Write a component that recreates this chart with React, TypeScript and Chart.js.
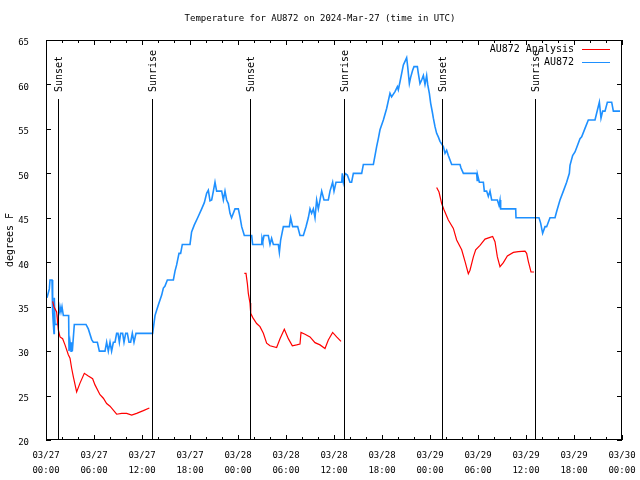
import React, { useEffect, useRef } from "react";
import { Chart, registerables } from "chart.js";
Chart.register(...registerables);

const TITLE = "Temperature for AU872 on 2024-Mar-27 (time in UTC)";
const Y_TITLE = "degrees F";
const FONT = "'DejaVu Sans Mono', monospace";

const X_TICK_HOURS = [0, 6, 12, 18, 24, 30, 36, 42, 48, 54, 60, 66, 72];
const X_TICK_LABELS = [
  ["03/27", "00:00"], ["03/27", "06:00"], ["03/27", "12:00"], ["03/27", "18:00"],
  ["03/28", "00:00"], ["03/28", "06:00"], ["03/28", "12:00"], ["03/28", "18:00"],
  ["03/29", "00:00"], ["03/29", "06:00"], ["03/29", "12:00"], ["03/29", "18:00"],
  ["03/30", "00:00"],
];
const Y_MIN = 20;
const Y_MAX = 65;
const Y_STEP = 5;

const SUN_EVENT_HOURS = [1.54, 13.29, 25.54, 37.29, 49.54, 61.16];
const SUN_EVENT_LABELS = ["Sunset", "Sunrise", "Sunset", "Sunrise", "Sunset", "Sunrise"];

const OBS_HOURS = [
  0.125, 0.42, 0.5, 0.75, 0.83, 0.92, 1.0, 1.04, 1.125, 1.42, 1.54, 1.67, 1.75, 1.875, 2.0, 2.17, 2.83, 2.875, 3.0, 3.125,
  3.2, 3.29, 3.54, 5.0, 5.29, 5.71, 5.92, 6.42, 6.67, 7.375, 7.58, 7.79, 8.0, 8.2, 8.42, 8.625, 8.83, 9.0, 9.17, 9.33,
  9.58, 9.75, 9.96, 10.17, 10.375, 10.58, 10.79, 11.0, 11.25, 13.33, 13.625, 13.83, 14.04, 14.46, 14.67, 14.86, 15.17, 15.92, 16.125, 16.33,
  16.625, 16.83, 17.04, 18.0, 18.2, 18.54, 18.96, 19.46, 19.79, 20.08, 20.29, 20.5, 20.71, 20.92, 21.125, 21.33, 21.96, 22.17, 22.375, 22.58,
  22.79, 23.0, 23.2, 23.625, 24.04, 24.25, 24.46, 24.79, 25.71, 25.83, 26.96, 27.0, 27.1, 27.25, 27.79, 28.0, 28.2, 28.42, 29.04, 29.17,
  29.33, 29.67, 30.42, 30.58, 30.83, 31.46, 31.75, 32.17, 32.5, 32.79, 33.0, 33.2, 33.42, 33.625, 33.83, 34.04, 34.46, 34.75, 35.29, 35.5,
  35.83, 36.0, 36.25, 36.96, 37.04, 37.17, 37.375, 37.67, 38.0, 38.2, 38.42, 39.46, 39.67, 40.92, 41.125, 41.33, 41.54, 41.75, 42.17, 42.58,
  43.0, 43.2, 43.625, 43.92, 44.04, 44.25, 44.46, 44.67, 44.875, 45.08, 45.21, 45.42, 45.58, 45.83, 46.0, 46.42, 46.54, 46.75, 46.96, 47.17,
  47.375, 47.58, 47.71, 47.92, 48.08, 48.29, 48.42, 48.625, 48.83, 49.04, 49.25, 49.67, 49.875, 50.08, 50.29, 50.71, 51.75, 51.875, 52.17, 53.83,
  53.9, 53.95, 54.17, 54.67, 54.79, 55.08, 55.29, 55.5, 55.71, 56.42, 56.625, 56.75, 56.83, 58.71, 58.75, 61.625, 61.83, 62.08, 62.375, 62.58,
  63.0, 63.625, 63.83, 64.25, 64.67, 65.08, 65.42, 65.5, 65.83, 66.125, 66.42, 66.75, 66.96, 67.375, 67.79, 68.625, 68.92, 69.17, 69.375, 69.58,
  69.875, 70.17, 70.71, 70.92, 71.75,
];
const OBS_TEMPS = [
  36, 37, 38, 38, 34.4, 33, 32, 36, 33, 33, 34, 34.4, 35, 34.4, 35, 34, 34, 30, 31, 30,
  31, 30, 33, 33, 32.5, 31.3, 31, 31, 30, 30, 31, 30, 31, 30, 31, 31, 32, 32, 31, 32,
  32, 31, 32, 32, 31, 31, 32, 31, 32, 32, 34, 34.6, 35.2, 36.3, 37.1, 37.3, 38, 38, 39, 39.7,
  41, 41, 42, 42, 43.4, 44.2, 45, 46, 46.7, 47.75, 48.1, 46.9, 47, 48, 49, 48, 48, 47, 48, 47,
  46.6, 45.5, 45, 46, 46, 45.1, 44, 43, 43, 42, 42, 42.7, 42.3, 43, 43, 42, 42.7, 42, 42, 41.1,
  42.5, 44, 44, 45, 44, 44, 43, 43, 44, 45, 46, 45.5, 46, 45, 47, 46, 48, 47, 47, 48,
  49, 48, 49, 49, 50, 49, 50, 49.8, 49, 49, 50, 50, 51, 51, 52, 53, 53.9, 54.9, 56, 57.3,
  59, 58.6, 59.2, 59.75, 59.4, 60.3, 61.25, 62.2, 62.6, 63, 62, 60.1, 60.8, 61.6, 62, 62, 61.25, 60.1, 60.5, 61,
  60, 61, 60, 59, 57.9, 56.9, 56.2, 55.25, 54.5, 54.1, 53.6, 53, 52.25, 52.6, 52, 51, 51, 50.6, 50, 50,
  49.2, 49.8, 49, 49, 48, 48, 47.4, 48, 47, 47, 46.4, 47, 46, 46, 45, 45, 44.4, 43.25, 44, 44,
  45, 45, 45.7, 47, 48, 49, 50, 50.9, 52, 52.4, 53.1, 53.9, 54.1, 55.06, 56, 56, 57.1, 58, 56.2, 57,
  57, 58, 58, 57, 57,
];

const ANALYSIS_HOURS_1 = [0.83, 1.0, 1.33, 1.54, 1.75, 2.08, 2.375, 2.79, 3.0, 3.2, 3.42, 3.83, 4.25, 4.79, 5.29, 5.83, 6.125, 6.75, 7.17, 7.58, 8.0, 8.83, 9.46, 10.08, 10.71, 11.33, 12.17, 12.92];
const ANALYSIS_TEMPS_1 = [35.6, 35, 34.4, 32.4, 31.6, 31.4, 30.7, 29.6, 29.2, 28.1, 27.1, 25.4, 26.4, 27.5, 27.2, 26.9, 26.2, 25.1, 24.7, 24.1, 23.8, 22.9, 23, 23, 22.8, 23, 23.3, 23.6];
const ANALYSIS_HOURS_2 = [24.79, 25.0, 25.17, 25.29, 25.5, 25.59, 25.83, 26.33, 26.75, 27.17, 27.58, 28.0, 28.83, 29.25, 29.79, 30.29, 30.79, 31.33, 31.75, 31.875, 32.375, 33.0, 33.625, 34.25, 34.875, 35.29, 35.83, 36.33, 36.875];
const ANALYSIS_TEMPS_2 = [38.75, 38.75, 37.6, 36.5, 35.4, 34.25, 33.8, 33.1, 32.75, 32, 30.9, 30.6, 30.4, 31.4, 32.45, 31.4, 30.6, 30.7, 30.8, 32.1, 31.9, 31.6, 30.95, 30.7, 30.3, 31.25, 32.1, 31.6, 31.1];
const ANALYSIS_HOURS_3 = [48.83, 49.125, 49.46, 49.75, 50.29, 50.92, 51.33, 51.96, 52.375, 52.79, 53.0, 53.42, 53.71, 54.25, 54.875, 55.5, 55.83, 56.125, 56.42, 56.75, 57.17, 57.67, 58.42, 59.04, 59.875, 60.08, 60.29, 60.625, 61.0];
const ANALYSIS_TEMPS_3 = [48.4, 47.9, 46.6, 45.9, 44.75, 43.8, 42.5, 41.4, 40.1, 38.7, 39.1, 40.6, 41.4, 41.9, 42.6, 42.8, 42.9, 42.3, 40.6, 39.5, 39.95, 40.7, 41.1, 41.2, 41.25, 41, 40.1, 38.9, 38.9];

const SERIES_NAMES = ["AU872 Analysis", "AU872"];
const SERIES_COLORS = ["#ff0000", "#1e90ff"];

function toPoints(hours: number[], temps: number[]) {
  return hours.map((h, i) => ({ x: h, y: temps[i] }));
}

const analysisPoints = [
  ...toPoints(ANALYSIS_HOURS_1, ANALYSIS_TEMPS_1),
  { x: 18, y: null },
  ...toPoints(ANALYSIS_HOURS_2, ANALYSIS_TEMPS_2),
  { x: 42, y: null },
  ...toPoints(ANALYSIS_HOURS_3, ANALYSIS_TEMPS_3),
];
const obsPoints = toPoints(OBS_HOURS, OBS_TEMPS);

const decorPlugin = {
  id: "decor",
  afterDatasetsDraw(chart: any) {
    const ctx = chart.ctx;
    const { left, right, top, bottom } = chart.chartArea;
    const xs = chart.scales.x;
    const ys = chart.scales.y;
    ctx.save();
    ctx.strokeStyle = "#000";
    ctx.fillStyle = "#000";
    ctx.lineWidth = 1;

    // frame
    ctx.strokeRect(Math.round(left) + 0.5, Math.round(top) + 0.5, Math.round(right - left) - 1, Math.round(bottom - top) - 1);

    // x ticks (inward, top and bottom)
    for (let h = 0; h <= 72; h += 2) {
      const px = Math.round(xs.getPixelForValue(h)) + 0.5;
      const len = h % 6 === 0 ? 5 : 3;
      ctx.beginPath();
      ctx.moveTo(px, bottom);
      ctx.lineTo(px, bottom - len);
      ctx.moveTo(px, top);
      ctx.lineTo(px, top + len);
      ctx.stroke();
    }
    // y ticks (inward, left and right)
    for (let t = Y_MIN; t <= Y_MAX; t += Y_STEP) {
      const py = Math.round(ys.getPixelForValue(t)) + 0.5;
      ctx.beginPath();
      ctx.moveTo(left, py);
      ctx.lineTo(left + 5, py);
      ctx.moveTo(right, py);
      ctx.lineTo(right - 5, py);
      ctx.stroke();
    }

    // sunrise / sunset lines
    const lineTop = top + 59;
    ctx.font = `10px ${FONT}`;
    SUN_EVENT_HOURS.forEach((h, i) => {
      const px = Math.round(xs.getPixelForValue(h)) + 0.5;
      ctx.beginPath();
      ctx.moveTo(px, bottom);
      ctx.lineTo(px, lineTop);
      ctx.stroke();
      ctx.save();
      ctx.translate(px + 1, lineTop - 7);
      ctx.rotate(-Math.PI / 2);
      ctx.textAlign = "left";
      ctx.textBaseline = "middle";
      ctx.fillText(SUN_EVENT_LABELS[i], 0, 0);
      ctx.restore();
    });

    // legend
    ctx.font = `10px ${FONT}`;
    ctx.textAlign = "right";
    ctx.textBaseline = "middle";
    SERIES_NAMES.forEach((name, i) => {
      const y = top + 9 + i * 13;
      ctx.fillStyle = "#000";
      ctx.fillText(name, right - 48, y);
      ctx.strokeStyle = SERIES_COLORS[i];
      ctx.beginPath();
      ctx.moveTo(right - 40, Math.round(y) + 0.5);
      ctx.lineTo(right - 12, Math.round(y) + 0.5);
      ctx.stroke();
    });

    // title
    ctx.fillStyle = "#000";
    ctx.font = `9px ${FONT}`;
    ctx.textAlign = "center";
    ctx.textBaseline = "middle";
    ctx.fillText(TITLE, 320, 19);

    // y title
    ctx.save();
    ctx.font = `10px ${FONT}`;
    ctx.translate(10, (top + bottom) / 2);
    ctx.rotate(-Math.PI / 2);
    ctx.textAlign = "center";
    ctx.textBaseline = "middle";
    ctx.fillText(Y_TITLE, 0, 0);
    ctx.restore();

    ctx.restore();
  },
};

export default function App() {
  const canvasRef = useRef<HTMLCanvasElement | null>(null);
  useEffect(() => {
    if (!canvasRef.current) return;
    const chart = new Chart(canvasRef.current, {
      type: "line",
      data: {
        datasets: [
          {
            label: SERIES_NAMES[0],
            data: analysisPoints as any,
            borderColor: SERIES_COLORS[0],
            borderWidth: 1.2,
            pointRadius: 0,
            tension: 0,
            spanGaps: false,
          },
          {
            label: SERIES_NAMES[1],
            data: obsPoints as any,
            borderColor: SERIES_COLORS[1],
            borderWidth: 1.6,
            pointRadius: 0,
            tension: 0,
          },
        ],
      },
      options: {
        responsive: false,
        animation: false,
        devicePixelRatio: 1,
        layout: { padding: { top: 40, right: 18, left: 0, bottom: 0 } },
        plugins: {
          legend: { display: false },
          title: { display: false },
          tooltip: { enabled: false },
        },
        scales: {
          x: {
            type: "linear",
            min: 0,
            max: 72,
            afterBuildTicks: (s: any) => {
              s.ticks = X_TICK_HOURS.map((v) => ({ value: v }));
            },
            afterFit: (s: any) => {
              s.height = 40;
              s.paddingLeft = 0;
              s.paddingRight = 0;
            },
            ticks: {
              autoSkip: false,
              maxRotation: 0,
              minRotation: 0,
              padding: 0,
              color: "#000",
              font: { family: FONT, size: 9, lineHeight: "15px" as any },
              callback: (v: any) => X_TICK_LABELS[X_TICK_HOURS.indexOf(Number(v))] as any,
            },
            grid: { display: false },
            border: { display: false },
          },
          y: {
            min: Y_MIN,
            max: Y_MAX,
            afterFit: (s: any) => {
              s.width = 46;
              s.paddingTop = 0;
              s.paddingBottom = 0;
            },
            ticks: {
              stepSize: Y_STEP,
              padding: 9,
              labelOffset: 3,
              color: "#000",
              font: { family: FONT, size: 9 },
            },
            grid: { display: false },
            border: { display: false },
          },
        },
      },
      plugins: [decorPlugin],
    });
    return () => chart.destroy();
  }, []);
  return (
    <div style={{ position: "absolute", left: 0, top: 0, width: 640, height: 480, background: "#fff" }}>
      <canvas ref={canvasRef} width={640} height={480} style={{ display: "block", width: 640, height: 480 }} />
    </div>
  );
}
